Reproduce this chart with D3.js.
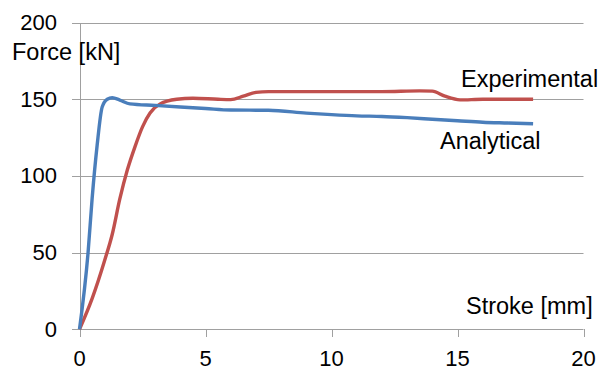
<!DOCTYPE html>
<html><head><meta charset="utf-8">
<script src="https://cdn.jsdelivr.net/npm/d3@7"></script>
<style>body{margin:0;background:#fff}text{font-family:"Liberation Sans",Arial,sans-serif;fill:#000}</style>
</head><body>
<script>
const xTicks = [0,5,10,15,20];
const yTicks = [0,50,100,150,200];
const analyticalX = [0,0.34,0.5,0.7,0.9,1.1,1.3,1.6,2,3,4,5,6,7.5,9,10,11,12,13,14,15,16,17,18];
const analyticalY = [0,50,85,120,145,150,151,149.5,147,146,145,144,143,142.8,141,140,139.2,138.8,138,137,136,135,134.5,134];
const experimentalX = [0,0.5,1.0,1.3,1.6,1.9,2.2,2.5,2.8,3.2,3.86,4.5,5.5,6,6.5,7,7.5,9,12,13.5,14,14.5,15.1,16,18];
const experimentalY = [0,20,45,62,85,104,119,132,141,147,150,150.7,150,149.8,152,154.5,155,155,155,155.5,155.3,152,149.6,150,150];

const W=603,H=370;
const svg=d3.select("body").append("svg").attr("width",W).attr("height",H);
const x=d3.scaleLinear().domain([0,20]).range([79.5,583.5]);
const y=d3.scaleLinear().domain([0,200]).range([329.3,22.6]);

svg.selectAll(".grid").data(yTicks).enter().append("line")
  .attr("x1",72).attr("x2",x(20)).attr("y1",d=>Math.round(y(d))+0.5).attr("y2",d=>Math.round(y(d))+0.5)
  .attr("stroke","#a0a0a0").attr("stroke-width",1);
svg.append("line").attr("x1",80.5).attr("x2",80.5).attr("y1",Math.round(y(200))).attr("y2",Math.round(y(0))+1)
  .attr("stroke","#a0a0a0");
svg.selectAll(".xt").data(xTicks).enter().append("line")
  .attr("x1",d=>Math.round(x(d))+0.5).attr("x2",d=>Math.round(x(d))+0.5)
  .attr("y1",Math.round(y(0))).attr("y2",Math.round(y(0))+8).attr("stroke","#a0a0a0");

svg.selectAll(".yl").data(yTicks).enter().append("text")
  .attr("x",57).attr("y",d=>y(d)+7.5).attr("text-anchor","end").style("font-size","22px").text(d=>d);
svg.selectAll(".xl").data(xTicks).enter().append("text")
  .attr("x",d=>x(d)).attr("y",366).attr("text-anchor","middle").style("font-size","22px").text(d=>d);

const line=d3.line().x(d=>x(d[0])).y(d=>y(d[1])).curve(d3.curveMonotoneX);
const expData=experimentalX.map((v,i)=>[v,experimentalY[i]]);
const anaData=analyticalX.map((v,i)=>[v,analyticalY[i]]);
svg.append("path").attr("d",line(expData)).attr("fill","none").attr("stroke","#c0504d").attr("stroke-width",3.4).attr("stroke-linejoin","round");
svg.append("path").attr("d",line(anaData)).attr("fill","none").attr("stroke","#4a7ebb").attr("stroke-width",3.4).attr("stroke-linejoin","round");

svg.append("text").attr("x",12).attr("y",59.5).style("font-size","23.5px").text("Force [kN]");
svg.append("text").attr("x",466).attr("y",314).style("font-size","23.5px").text("Stroke [mm]");
svg.append("text").attr("x",461).attr("y",86.5).style("font-size","23.5px").text("Experimental");
svg.append("text").attr("x",440).attr("y",148.5).style("font-size","23.5px").text("Analytical");
</script>
</body></html>
